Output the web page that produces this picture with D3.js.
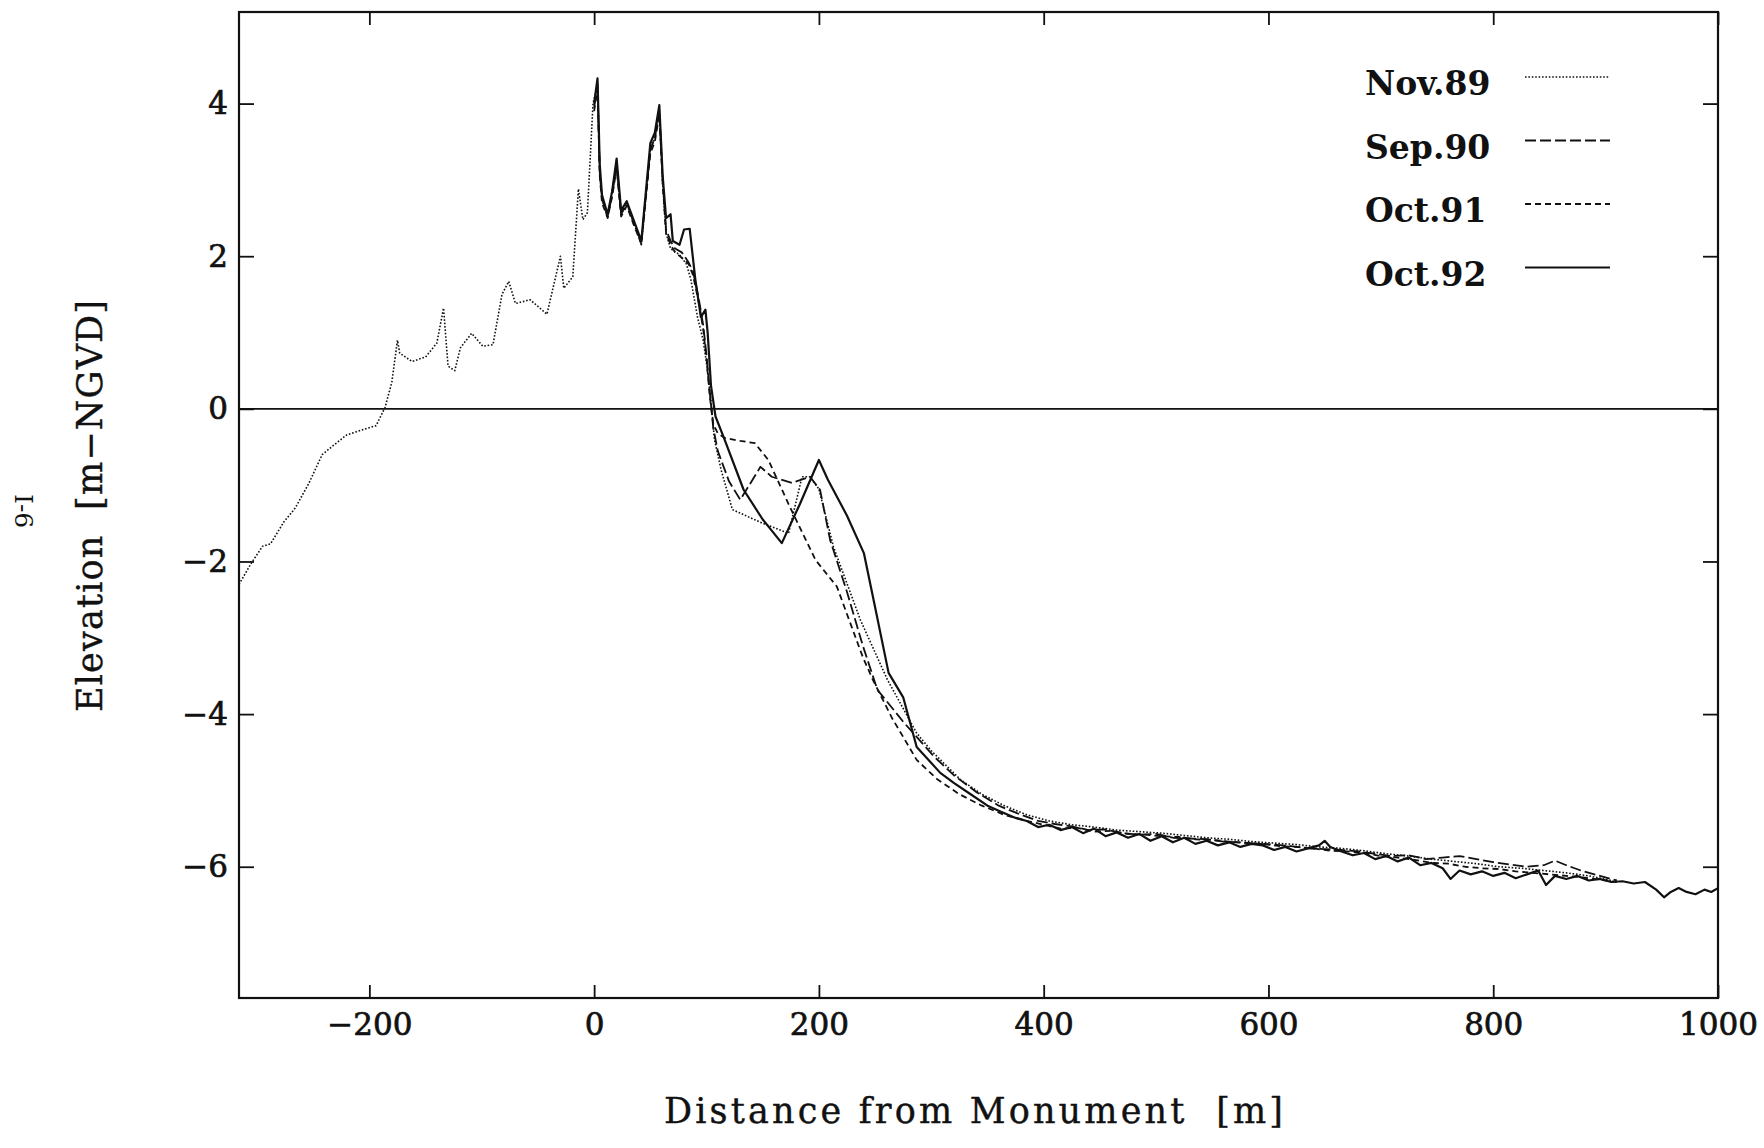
<!DOCTYPE html>
<html>
<head>
<meta charset="utf-8">
<script src="https://cdn.jsdelivr.net/npm/d3@7"></script>
<style>
  body { margin: 0; background: #fff; }
  svg { display: block; }
  .tick text { font-family: "DejaVu Serif", serif; font-size: 31px; fill: #111; stroke: #111; stroke-width: 0.7px; }
  .tick line { stroke: #111; stroke-width: 1.8px; }
  .label { font-family: "DejaVu Serif", serif; fill: #111; stroke: #111; stroke-width: 0.4px; }
  .legend text { font-family: "DejaVu Serif", serif; font-size: 33px; font-weight: bold; fill: #111; }
</style>
</head>
<body>
<div id="chart"></div>
<script>
// beach profile surveys, distance [m] vs elevation [m-NGVD]
const seriesNames = ["Nov.89", "Sep.90", "Oct.91", "Oct.92"]
const xTicks = [-200, 0, 200, 400, 600, 800, 1000]
const yTicks = [-6, -4, -2, 0, 2, 4]

const nov89 = [
  [-316, -2.30], [-305, -2.02], [-295, -1.80], [-288, -1.77], [-276, -1.48], [-266, -1.30],
  [-254, -0.98], [-242, -0.60], [-232, -0.48], [-220, -0.34], [-205, -0.27], [-194, -0.22],
  [-186, 0.02], [-180, 0.35], [-175, 0.90], [-173, 0.73], [-162, 0.62], [-150, 0.68],
  [-140, 0.86], [-134, 1.32], [-130, 0.56], [-124, 0.50], [-119, 0.80], [-109, 0.99],
  [-99, 0.82], [-90, 0.84], [-82, 1.50], [-76, 1.67], [-70, 1.38], [-57, 1.43],
  [-42, 1.24], [-30, 2.00], [-27, 1.58], [-19, 1.73], [-14, 2.88], [-10, 2.48],
  [-6, 2.57], [-1, 4.00], [3, 4.25], [5, 3.10], [7, 2.75], [12, 2.50], [20, 3.22],
  [24, 2.55], [29, 2.68], [35, 2.45], [42, 2.15], [50, 3.40], [54, 3.55], [58, 3.90],
  [61, 2.95], [64, 2.30], [68, 2.10], [76, 2.02], [82, 1.90], [86, 1.70], [92, 1.20],
  [97, 0.90], [100, 0.60], [104, 0.10], [107, -0.40], [113, -0.80], [123, -1.32],
  [150, -1.50], [173, -1.63], [185, -0.89], [192, -0.89], [200, -1.05], [213, -1.81],
  [237, -2.77], [261, -3.55], [287, -4.25], [300, -4.48], [326, -4.86], [345, -5.05],
  [365, -5.20], [385, -5.32], [405, -5.40], [425, -5.45], [445, -5.48], [465, -5.52],
  [485, -5.54], [505, -5.56], [525, -5.59], [545, -5.62], [565, -5.64], [585, -5.67],
  [605, -5.69], [625, -5.71], [645, -5.74], [665, -5.76], [685, -5.79], [705, -5.83],
  [725, -5.86], [745, -5.90], [765, -5.93], [785, -5.96], [805, -6.00], [825, -6.02],
  [845, -6.05], [865, -6.08], [885, -6.12], [905, -6.18],
]

const sep90 = [
  [0, 3.95], [3, 4.25], [5, 3.10], [7, 2.75], [12, 2.52], [16, 2.80], [20, 3.20],
  [24, 2.55], [29, 2.70], [35, 2.45], [42, 2.18], [50, 3.40], [54, 3.55], [58, 3.90],
  [61, 3.00], [64, 2.35], [68, 2.20], [72, 2.10], [78, 2.05], [84, 1.92], [88, 1.80],
  [93, 1.45], [97, 1.10], [100, 0.70], [103, 0.20], [106, -0.25], [110, -0.55],
  [120, -0.95], [130, -1.19], [138, -1.00], [148, -0.76], [158, -0.89], [176, -0.97],
  [192, -0.89], [201, -1.06], [210, -1.72], [225, -2.40], [239, -3.10], [252, -3.68],
  [275, -4.10], [302, -4.55], [320, -4.80], [340, -5.02], [360, -5.20], [380, -5.32],
  [395, -5.40], [410, -5.44], [425, -5.47], [440, -5.52], [455, -5.51], [470, -5.56],
  [485, -5.58], [500, -5.57], [515, -5.62], [530, -5.63], [545, -5.64], [560, -5.67],
  [575, -5.68], [590, -5.70], [605, -5.71], [620, -5.73], [635, -5.76], [650, -5.77],
  [665, -5.78], [680, -5.80], [695, -5.83], [710, -5.86], [725, -5.85], [740, -5.90],
  [755, -5.88], [770, -5.86], [785, -5.90], [800, -5.94], [815, -5.97], [830, -6.00],
  [845, -5.98], [855, -5.92], [865, -5.98], [880, -6.06], [895, -6.12], [910, -6.18],
]

const oct91 = [
  [0, 3.90], [3, 4.20], [5, 3.05], [7, 2.70], [12, 2.50], [16, 2.78], [20, 3.15],
  [24, 2.52], [29, 2.66], [35, 2.42], [42, 2.16], [50, 3.35], [54, 3.50], [58, 3.85],
  [61, 2.95], [64, 2.30], [68, 2.15], [72, 2.05], [78, 1.98], [84, 1.90], [88, 1.75],
  [93, 1.40], [97, 1.05], [100, 0.65], [103, 0.15], [106, -0.20], [110, -0.32],
  [116, -0.38], [130, -0.42], [143, -0.45], [155, -0.67], [174, -1.28], [197, -1.98],
  [216, -2.33], [239, -3.25], [248, -3.55], [265, -4.05], [287, -4.60], [305, -4.85],
  [325, -5.05], [345, -5.20], [365, -5.32], [385, -5.40], [400, -5.45], [415, -5.50],
  [430, -5.49], [445, -5.54], [460, -5.53], [475, -5.57], [490, -5.58], [505, -5.60],
  [520, -5.61], [535, -5.64], [550, -5.65], [565, -5.67], [580, -5.69], [595, -5.70],
  [610, -5.73], [625, -5.74], [640, -5.76], [655, -5.79], [670, -5.80], [685, -5.82],
  [700, -5.86], [715, -5.88], [730, -5.91], [745, -5.95], [760, -5.96], [775, -6.00],
  [790, -6.02], [805, -6.03], [820, -6.06], [835, -6.08], [850, -6.10], [865, -6.12],
  [880, -6.14], [895, -6.17], [910, -6.20],
]

const oct92 = [
  [0, 4.00], [3, 4.33], [5, 3.20], [7, 2.80], [12, 2.55], [16, 2.85], [20, 3.28],
  [24, 2.60], [29, 2.72], [35, 2.48], [42, 2.20], [50, 3.48], [54, 3.62], [58, 3.98],
  [61, 3.05], [64, 2.50], [68, 2.55], [70, 2.20], [76, 2.15], [80, 2.35], [85, 2.36],
  [90, 1.70], [95, 1.20], [99, 1.30], [101, 1.00], [104, 0.30], [108, -0.10],
  [116, -0.40], [133, -1.06], [150, -1.45], [167, -1.76], [183, -1.25], [200, -0.67],
  [208, -0.93], [225, -1.40], [240, -1.89], [250, -2.60], [262, -3.46], [275, -3.78],
  [287, -4.43], [308, -4.77], [320, -4.90], [335, -5.05], [350, -5.20], [362, -5.28],
  [375, -5.36], [385, -5.40], [395, -5.48], [405, -5.45], [415, -5.52], [425, -5.48],
  [435, -5.56], [445, -5.50], [455, -5.60], [465, -5.55], [475, -5.62], [485, -5.57],
  [495, -5.66], [505, -5.60], [515, -5.68], [525, -5.62], [535, -5.70], [545, -5.66],
  [555, -5.72], [565, -5.68], [575, -5.74], [585, -5.70], [595, -5.72], [605, -5.78],
  [615, -5.74], [625, -5.80], [635, -5.76], [645, -5.72], [650, -5.66], [655, -5.74],
  [665, -5.80], [675, -5.85], [685, -5.82], [695, -5.90], [705, -5.86], [715, -5.93],
  [725, -5.88], [735, -5.98], [745, -5.95], [755, -6.02], [762, -6.16], [770, -6.05],
  [780, -6.10], [790, -6.06], [800, -6.12], [810, -6.08], [820, -6.15], [830, -6.10],
  [840, -6.05], [847, -6.24], [855, -6.12], [865, -6.16], [875, -6.12], [885, -6.18],
  [895, -6.16], [905, -6.20], [915, -6.19], [925, -6.22], [935, -6.20], [945, -6.30],
  [952, -6.40], [958, -6.33], [965, -6.28], [972, -6.33], [980, -6.36], [988, -6.30],
  [994, -6.33], [1000, -6.28],
]

const seriesData = [nov89, sep90, oct91, oct92]

var dims = {
  width: 1764,
  height: 1148,
  margins: { top: 12, right: 46, bottom: 150, left: 239 },
}
var lineStyles = [
  { dash: "1.6,1.8", width: 1.6 },
  { dash: "11,4", width: 1.8 },
  { dash: "6,4", width: 1.8 },
  { dash: null, width: 2.2 },
]

var x = d3.scaleLinear()
  .domain([-316, 1000])
  .range([dims.margins.left, dims.width - dims.margins.right])
var y = d3.scaleLinear()
  .domain([-7.72, 5.2])
  .range([dims.height - dims.margins.bottom, dims.margins.top])

var svg = d3.select("#chart").append("svg")
  .attr("width", dims.width)
  .attr("height", dims.height)

var line = d3.line()
  .x(d => x(d[0]))
  .y(d => y(d[1]))

// zero line
svg.append("line")
  .attr("x1", x.range()[0]).attr("x2", x.range()[1])
  .attr("y1", y(0)).attr("y2", y(0))
  .attr("stroke", "#111")
  .attr("stroke-width", 1.8)

svg.append("g")
  .selectAll("path")
  .data(seriesData)
  .join("path")
  .attr("d", line)
  .attr("fill", "none")
  .attr("stroke", "#111")
  .attr("stroke-linejoin", "round")
  .attr("stroke-width", (d, i) => lineStyles[i].width)
  .attr("stroke-dasharray", (d, i) => lineStyles[i].dash)

// axes, ticks pointing inward
var yBottom = y.range()[0], yTop = y.range()[1]
var xLeft = x.range()[0], xRight = x.range()[1]

svg.append("g")
  .attr("transform", `translate(0,${yBottom})`)
  .call(d3.axisBottom(x).tickValues(xTicks).tickSize(-13).tickPadding(15)
    .tickFormat(d => d < 0 ? "\u2212" + Math.abs(d) : d))
  .call(g => g.select(".domain").remove())

svg.append("g")
  .attr("transform", `translate(0,${yTop})`)
  .call(d3.axisTop(x).tickValues(xTicks).tickSize(-13).tickFormat(""))
  .call(g => g.select(".domain").remove())

svg.append("g")
  .attr("transform", `translate(${xLeft},0)`)
  .call(d3.axisLeft(y).tickValues(yTicks).tickSize(-15).tickPadding(11)
    .tickFormat(d => d < 0 ? "\u2212" + Math.abs(d) : d))
  .call(g => g.select(".domain").remove())

svg.append("g")
  .attr("transform", `translate(${xRight},0)`)
  .call(d3.axisRight(y).tickValues(yTicks).tickSize(-15).tickFormat(""))
  .call(g => g.select(".domain").remove())

svg.selectAll(".tick text").attr("font-family", null).attr("font-size", null)

// frame
svg.append("rect")
  .attr("x", xLeft).attr("y", yTop)
  .attr("width", xRight - xLeft).attr("height", yBottom - yTop)
  .attr("fill", "none")
  .attr("stroke", "#111")
  .attr("stroke-width", 2.2)

// axis titles
svg.append("text")
  .attr("class", "label")
  .attr("x", 664).attr("y", 1123)
  .attr("font-size", 35)
  .attr("textLength", 619)
  .attr("lengthAdjust", "spacing")
  .style("white-space", "pre")
  .text("Distance from Monument  [m]")

svg.append("text")
  .attr("class", "label")
  .attr("transform", "translate(102,712) rotate(-90)")
  .attr("font-size", 35)
  .attr("textLength", 412)
  .attr("lengthAdjust", "spacing")
  .style("white-space", "pre")
  .text("Elevation  [m\u2212NGVD]")

svg.append("text")
  .attr("class", "label")
  .attr("transform", "translate(15,494) rotate(90)")
  .attr("font-size", 25)
  .style("stroke-width", "0px")
  .text("I-6")

// legend
var legend = svg.append("g")
  .attr("class", "legend")
  .selectAll("g")
  .data(seriesNames)
  .join("g")
  .attr("transform", (d, i) => `translate(1365,${95 + i * 63.5})`)

legend.append("text")
  .text(d => d)

legend.append("line")
  .attr("x1", 160).attr("x2", 245)
  .attr("y1", -18).attr("y2", -18)
  .attr("stroke", "#111")
  .attr("stroke-width", (d, i) => lineStyles[i].width)
  .attr("stroke-dasharray", (d, i) => lineStyles[i].dash)
</script>
</body>
</html>
